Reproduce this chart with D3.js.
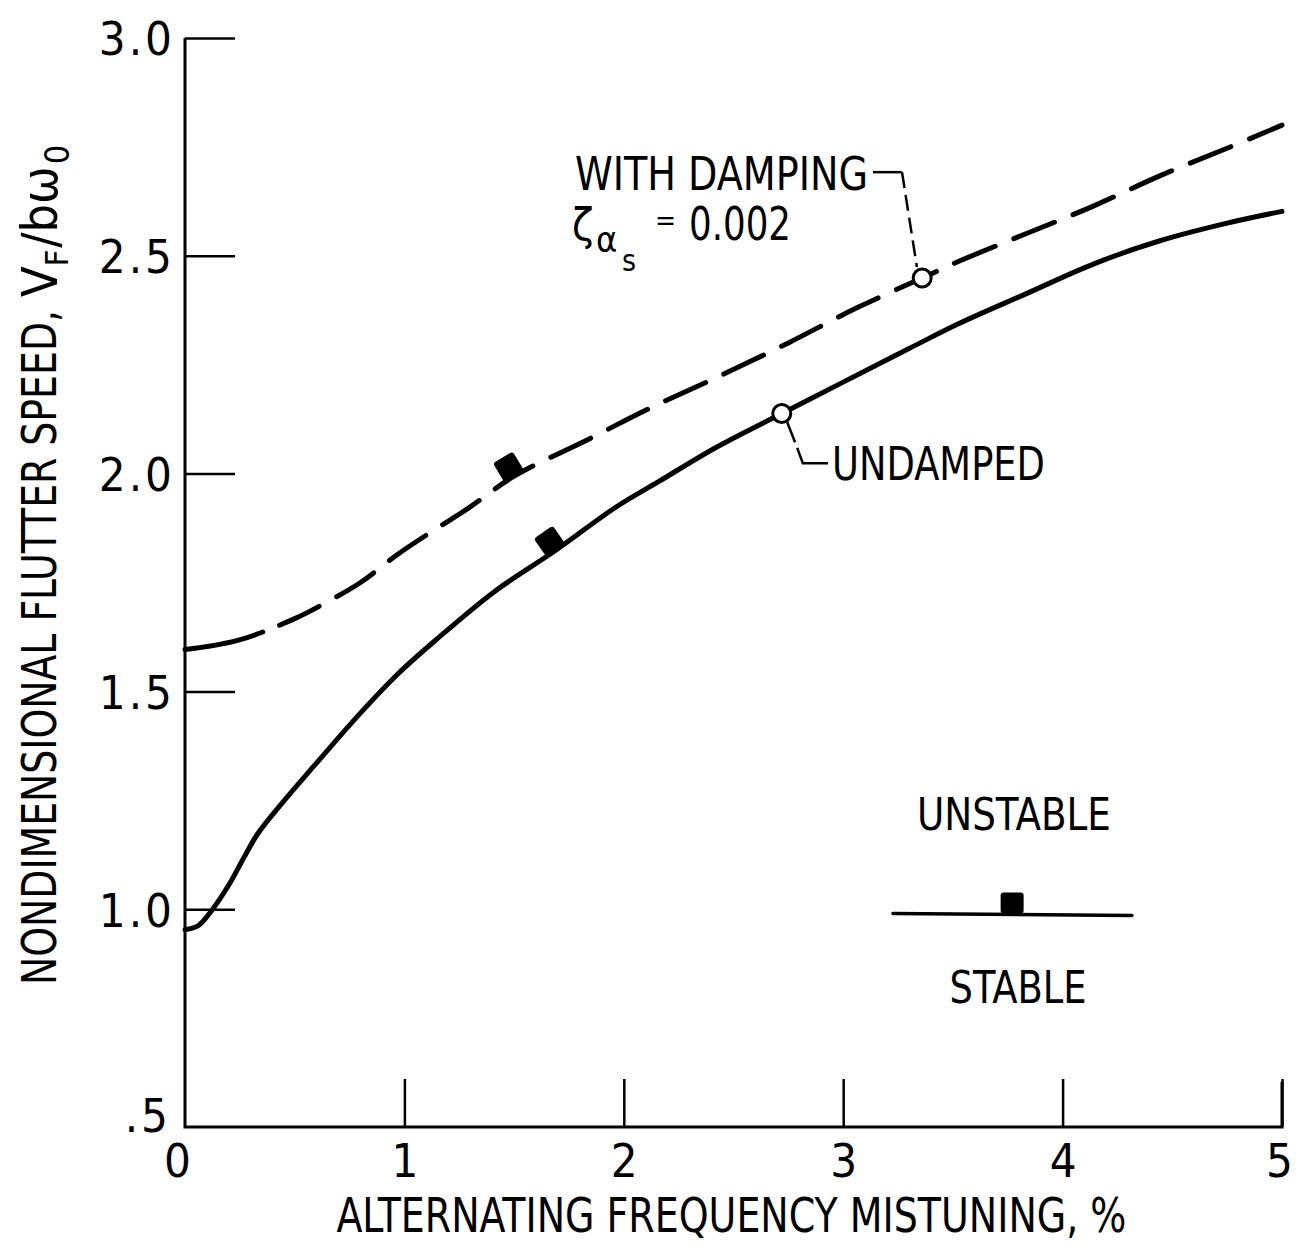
<!DOCTYPE html>
<html>
<head>
<meta charset="utf-8">
<script src="https://cdn.jsdelivr.net/npm/d3@7"></script>
<style>
  body { margin: 0; background: #fff; }
  svg text { font-family: "DejaVu Sans Condensed", "DejaVu Sans", sans-serif; font-stretch: condensed; fill: #000; }
</style>
</head>
<body>
<svg id="chart" width="1296" height="1246"></svg>
<script>
// axis ticks
const xTicks = [0, 1, 2, 3, 4, 5];
const yTicks = [0.5, 1.0, 1.5, 2.0, 2.5, 3.0];

// undamped flutter speed vs mistuning (%)
const undampedX = [0, 0.06, 0.12, 0.2, 0.27, 0.33, 0.43, 0.59, 0.79, 0.97, 1.15, 1.41, 1.69, 1.97, 2.16, 2.42, 2.72, 3.0, 3.3, 3.53, 3.83, 4.14, 4.44, 4.75, 5.0];
const undampedY = [0.953, 0.962, 0.996, 1.056, 1.12, 1.172, 1.236, 1.33, 1.445, 1.54, 1.621, 1.729, 1.824, 1.925, 1.982, 2.06, 2.138, 2.21, 2.287, 2.345, 2.412, 2.481, 2.534, 2.575, 2.602];

// with damping, zeta = 0.002
const dampedX = [0, 0.24, 0.5, 0.65, 0.8, 0.97, 1.15, 1.29, 1.5, 1.84, 2.11, 2.42, 2.75, 3.06, 3.36, 3.53, 3.83, 4.14, 4.44, 4.75, 5.0];
const dampedY = [1.596, 1.617, 1.667, 1.706, 1.75, 1.815, 1.875, 1.92, 1.994, 2.079, 2.148, 2.22, 2.30, 2.38, 2.449, 2.488, 2.55, 2.614, 2.683, 2.747, 2.8];

// filled "unstable" symbols and open label points (x in %)
const dampedMarkX = 1.5, undampedMarkX = 1.69;
const dampedOpenX = 3.36, undampedOpenX = 2.72;

// leader lines (data units)
const dampLeader = [[3.136, 2.692], [3.268, 2.692], [3.336, 2.474]];
const undampLeader = [[2.744, 2.119], [2.789, 2.061], [2.816, 2.024], [2.931, 2.024]];

// stability legend
const legendLineX = [3.227, 4.316], legendY = 0.99, legendMarkX = 3.77;

const svg = d3.select("#chart");
const x = d3.scaleLinear().domain([0, 5]).range([185, 1282]);
const y = d3.scaleLinear().domain([0.5, 3]).range([1127, 38]);

const interp = (xs, ys, v) => {
  const i = Math.max(1, Math.min(xs.length - 1, d3.bisectLeft(xs, v)));
  const t = (v - xs[i - 1]) / (xs[i] - xs[i - 1]);
  return ys[i - 1] + t * (ys[i] - ys[i - 1]);
};

// axes
const yAxis = d3.axisLeft(y).tickValues(yTicks).tickSize(-50).tickPadding(10)
  .tickFormat(d => d === 0.5 ? ".5" : d.toFixed(1));
const gy = svg.append("g").attr("transform", `translate(${x(0)},0)`).call(yAxis);
gy.select(".domain").remove();
gy.selectAll(".tick line").attr("stroke", "#000").attr("stroke-width", 2.5)
  .filter(d => d === 0.5).remove();
gy.selectAll(".tick text").attr("font-size", 47).attr("font-family", null)
  .attr("letter-spacing", 3).attr("dy", d => d === 0.5 ? "0.1em" : "0.36em")
  .attr("dx", d => d === 0.5 ? -4 : 0);

const xAxis = d3.axisBottom(x).tickValues(xTicks).tickSize(-48).tickPadding(8)
  .tickFormat(d3.format("d"));
const gx = svg.append("g").attr("transform", `translate(0,${y(0.5)})`).call(xAxis);
gx.select(".domain").remove();
gx.selectAll(".tick line").attr("stroke", "#000").attr("stroke-width", 2.5)
  .filter(d => d === 0).remove();
gx.selectAll(".tick text").attr("font-size", 47).attr("font-family", null)
  .attr("dy", "0.9em").attr("dx", d => d === 0 ? -8 : (d === 5 ? -3 : 0));

// axis lines
svg.append("path")
  .attr("d", d3.line()([[x(0), y(3)], [x(0), y(0.5)], [x(5), y(0.5)], [x(5), y(0.5) - 45]]))
  .attr("fill", "none").attr("stroke", "#000").attr("stroke-width", 3);

// axis titles
svg.append("text")
  .attr("x", x(0.69)).attr("y", y(0.5) + 105)
  .attr("font-size", 48).attr("textLength", 790).attr("lengthAdjust", "spacingAndGlyphs")
  .text("ALTERNATING FREQUENCY MISTUNING,  %");

svg.append("text")
  .attr("transform", "translate(56,985) rotate(-90)")
  .attr("font-size", 48).attr("textLength", 675).attr("lengthAdjust", "spacingAndGlyphs")
  .text("NONDIMENSIONAL FLUTTER SPEED,");
const yt = svg.append("text")
  .attr("transform", "translate(57,297) rotate(-90)")
  .attr("font-size", 50);
yt.append("tspan").text("V");
yt.append("tspan").attr("font-size", 32).attr("dy", 11).text("F");
yt.append("tspan").attr("dy", -11).attr("dx", 2).text("/b\u03c9");
yt.append("tspan").attr("font-size", 34).attr("dy", 12).attr("dx", 2).text("0");

// curves
const line = d3.line().x(d => x(d[0])).y(d => y(d[1])).curve(d3.curveCatmullRom.alpha(0.5));
svg.append("path")
  .attr("d", line(d3.zip(undampedX, undampedY)))
  .attr("fill", "none").attr("stroke", "#000").attr("stroke-width", 5).attr("stroke-linecap", "round");
svg.append("path")
  .attr("d", line(d3.zip(dampedX, dampedY)))
  .attr("fill", "none").attr("stroke", "#000").attr("stroke-width", 5)
  .attr("stroke-linecap", "round").attr("stroke-dasharray", "80,18,44,20,44,20,44,20,44,20,44,20,44,20,44,20,44,20,44,20,44,20,44,20,44,20,44,20,44,20,44,20,44,20,44,20,44,20,44,20,44,20");

// leader lines
const plain = d3.line().x(d => x(d[0])).y(d => y(d[1]));
svg.append("path").attr("d", plain(dampLeader.slice(0, 2)))
  .attr("fill", "none").attr("stroke", "#000").attr("stroke-width", 2.5);
svg.append("path").attr("d", plain(dampLeader.slice(1)))
  .attr("fill", "none").attr("stroke", "#000").attr("stroke-width", 2.5).attr("stroke-dasharray", "16,7");
svg.append("path").attr("d", plain(undampLeader))
  .attr("fill", "none").attr("stroke", "#000").attr("stroke-width", 2.5).attr("stroke-dasharray", "22,6,60");

// open circles
svg.selectAll("circle.open")
  .data([[dampedOpenX, interp(dampedX, dampedY, dampedOpenX)], [undampedOpenX, interp(undampedX, undampedY, undampedOpenX)]])
  .join("circle").attr("class", "open")
  .attr("cx", d => x(d[0])).attr("cy", d => y(d[1])).attr("r", 9)
  .attr("fill", "#fff").attr("stroke", "#000").attr("stroke-width", 3);

// filled unstable-side markers sitting on the curves
const marks = [[dampedMarkX, dampedX, dampedY], [undampedMarkX, undampedX, undampedY]].map(([mx, xs, ys]) => {
  const a = Math.atan2(y(interp(xs, ys, mx + 0.1)) - y(interp(xs, ys, mx - 0.1)), x(mx + 0.1) - x(mx - 0.1));
  return {px: x(mx), py: y(interp(xs, ys, mx)), angle: a * 180 / Math.PI, w: 23, h: 21};
});
marks.push({px: x(legendMarkX), py: y(legendY), angle: 0, w: 23, h: 20});
svg.selectAll("g.mark").data(marks).join("g").attr("class", "mark")
  .attr("transform", d => `translate(${d.px},${d.py}) rotate(${d.angle})`)
  .append("rect")
  .attr("x", d => -d.w / 2).attr("y", d => -d.h - 1).attr("width", d => d.w).attr("height", d => d.h + 1)
  .attr("rx", 3).attr("fill", "#000");

// stability legend line
svg.append("line")
  .attr("x1", x(legendLineX[0])).attr("x2", x(legendLineX[1]))
  .attr("y1", y(legendY)).attr("y2", y(legendY) + 2)
  .attr("stroke", "#000").attr("stroke-width", 3.5).attr("stroke-linecap", "round");

// annotation text
svg.append("text").attr("x", x(1.778)).attr("y", y(2.651))
  .attr("font-size", 46).attr("textLength", 293).attr("lengthAdjust", "spacingAndGlyphs")
  .text("WITH DAMPING");
const zx = x(1.764), zy = y(2.536);
svg.append("text").attr("x", zx).attr("y", zy).attr("font-size", 44).text("\u03b6");
svg.append("text").attr("x", zx + 24).attr("y", zy + 12).attr("font-size", 36).text("\u03b1");
svg.append("text").attr("x", zx + 50).attr("y", zy + 31).attr("font-size", 30).text("s");
svg.append("text").attr("x", zx + 83).attr("y", zy - 10).attr("font-size", 28).text("=");
svg.append("text").attr("x", zx + 117).attr("y", zy)
  .attr("font-size", 46).attr("textLength", 102).attr("lengthAdjust", "spacingAndGlyphs")
  .text("0.002");

svg.append("text").attr("x", x(2.949)).attr("y", y(1.985))
  .attr("font-size", 46).attr("textLength", 213).attr("lengthAdjust", "spacingAndGlyphs")
  .text("UNDAMPED");
svg.append("text").attr("x", x(3.778)).attr("y", y(1.182)).attr("text-anchor", "middle")
  .attr("font-size", 45).attr("textLength", 194).attr("lengthAdjust", "spacingAndGlyphs")
  .text("UNSTABLE");
svg.append("text").attr("x", x(3.797)).attr("y", y(0.785)).attr("text-anchor", "middle")
  .attr("font-size", 45).attr("textLength", 137).attr("lengthAdjust", "spacingAndGlyphs")
  .text("STABLE");
</script>
</body>
</html>
